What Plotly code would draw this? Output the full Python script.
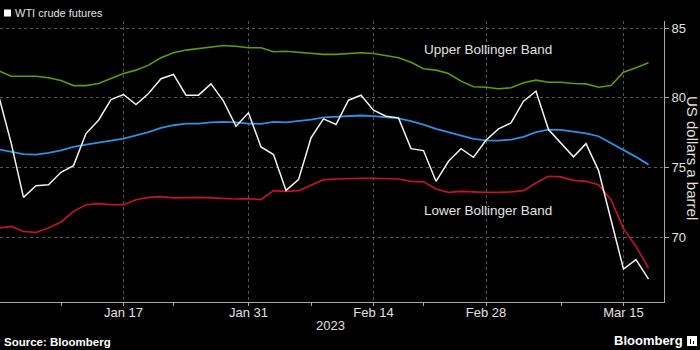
import plotly.graph_objects as go

# Trading days (exchange holidays Jan 2, Jan 16 and Feb 20 have no settlement)
dates = [
    "2022-12-30", "2023-01-03", "2023-01-04", "2023-01-05", "2023-01-06",
    "2023-01-09", "2023-01-10", "2023-01-11", "2023-01-12", "2023-01-13",
    "2023-01-17", "2023-01-18", "2023-01-19", "2023-01-20",
    "2023-01-23", "2023-01-24", "2023-01-25", "2023-01-26", "2023-01-27",
    "2023-01-30", "2023-01-31", "2023-02-01", "2023-02-02", "2023-02-03",
    "2023-02-06", "2023-02-07", "2023-02-08", "2023-02-09", "2023-02-10",
    "2023-02-13", "2023-02-14", "2023-02-15", "2023-02-16", "2023-02-17",
    "2023-02-21", "2023-02-22", "2023-02-23", "2023-02-24",
    "2023-02-27", "2023-02-28", "2023-03-01", "2023-03-02", "2023-03-03",
    "2023-03-06", "2023-03-07", "2023-03-08", "2023-03-09", "2023-03-10",
    "2023-03-13", "2023-03-14", "2023-03-15", "2023-03-16", "2023-03-17",
]

wti = [
    80.20, 76.80, 72.85, 73.69, 73.76,
    74.65, 75.13, 77.43, 78.39, 79.88,
    80.24, 79.52, 80.31, 81.37,
    81.68, 80.19, 80.19, 81.00, 79.76,
    77.96, 78.92, 76.47, 75.92, 73.35,
    74.12, 77.12, 78.49, 78.08, 79.83,
    80.19, 79.11, 78.68, 78.56, 76.35,
    76.21, 74.00, 75.44, 76.35,
    75.73, 76.95, 77.77, 78.20, 79.76,
    80.47, 77.72, 76.71, 75.76, 76.71,
    74.79, 71.24, 67.70, 68.37, 66.98,
]

band_mid = [
    76.30, 76.10, 75.95, 75.92, 76.04,
    76.23, 76.47, 76.64, 76.76, 76.93,
    77.07, 77.29, 77.53, 77.84,
    78.03, 78.15, 78.15, 78.24, 78.27,
    78.24, 78.15, 78.13, 78.27, 78.24,
    78.32, 78.44, 78.60, 78.65, 78.70,
    78.73, 78.68, 78.60, 78.53, 78.32,
    78.08, 77.77, 77.53, 77.29,
    77.05, 76.95, 76.93, 77.00, 77.19,
    77.53, 77.72, 77.70, 77.55, 77.45,
    77.24, 76.76, 76.28, 75.76, 75.20,
]

band_upper = [
    81.95, 81.55, 81.55, 81.55, 81.44,
    81.24, 80.88, 80.88, 81.03, 81.37,
    81.75, 81.99, 82.35, 82.88,
    83.24, 83.43, 83.53, 83.67, 83.76,
    83.71, 83.60, 83.60, 83.31, 83.35,
    83.28, 83.19, 83.12, 83.12, 83.19,
    83.24, 83.19, 83.06, 82.88, 82.56,
    82.09, 81.99, 81.75, 81.20,
    80.80, 80.76, 80.65, 80.72, 81.08,
    81.27, 81.12, 81.12, 81.03, 81.00,
    80.76, 80.88, 81.84, 82.16, 82.52,
]

band_lower = [
    70.64, 70.76, 70.40, 70.33, 70.65,
    71.08, 71.84, 72.32, 72.40, 72.32,
    72.32, 72.68, 72.85, 72.90,
    72.81, 72.83, 72.85, 72.81, 72.78,
    72.73, 72.76, 72.68, 73.33, 73.28,
    73.33, 73.71, 74.12, 74.17, 74.22,
    74.22, 74.22, 74.20, 74.17, 74.00,
    73.96, 73.45, 73.21, 73.28,
    73.22, 73.21, 73.21, 73.24, 73.33,
    73.88, 74.36, 74.32, 74.07, 74.00,
    73.76, 72.68, 70.60, 69.32, 67.77,
]

x_tick_dates = ["2023-01-17", "2023-01-31", "2023-02-14", "2023-02-28", "2023-03-15"]
x_tick_labels = ["Jan 17", "Jan 31", "Feb 14", "Feb 28", "Mar 15"]
x_minor_dates = ["2023-01-09", "2023-01-23", "2023-02-07", "2023-02-21", "2023-03-08"]
y_ticks = [70, 75, 80, 85]

FONT = "Liberation Sans, Arial, sans-serif"
AXIS_GREY = "#a8a8a8"
GRID_GREY = "#555555"
TEXT = "#e0e0e0"

fig = go.Figure()
fig.add_trace(go.Scatter(x=dates, y=band_upper, mode="lines", name="Upper Bollinger Band",
                         line=dict(color="#5c9c06", width=1.6)))
fig.add_trace(go.Scatter(x=dates, y=band_mid, mode="lines", name="20-day average",
                         line=dict(color="#2e8fe6", width=1.8)))
fig.add_trace(go.Scatter(x=dates, y=band_lower, mode="lines", name="Lower Bollinger Band",
                         line=dict(color="#c8102e", width=1.6)))
fig.add_trace(go.Scatter(x=dates, y=wti, mode="lines", name="WTI crude futures",
                         line=dict(color="#f2f2f2", width=1.5)))

fig.update_layout(
    width=700, height=350,
    margin=dict(l=0, r=36, t=21, b=48),
    paper_bgcolor="#000000", plot_bgcolor="#000000",
    showlegend=False,
    font=dict(family=FONT, color=TEXT, size=13),
    xaxis=dict(
        type="date",
        range=["2022-12-30 02:53", "2023-03-20 05:45"],
        rangebreaks=[dict(bounds=["sat", "mon"]),
                     dict(values=["2023-01-02", "2023-01-16", "2023-02-20"])],
        tickmode="array", tickvals=x_tick_dates, ticktext=x_tick_labels,
        ticks="outside", ticklen=3, tickcolor=AXIS_GREY,
        ticklabelstandoff=-5,
        tickfont=dict(size=13, color=TEXT, family=FONT),
        showgrid=True, gridcolor=GRID_GREY, griddash="dot", gridwidth=1,
        showline=True, linecolor=AXIS_GREY, linewidth=1,
        zeroline=False,
        minor=dict(tickmode="array", tickvals=x_minor_dates, ticks="outside",
                   ticklen=3, tickcolor=AXIS_GREY, showgrid=False),
    ),
    yaxis=dict(
        side="right",
        range=[65.33, 85.52],
        tickmode="array", tickvals=y_ticks,
        ticks="outside", ticklen=4, tickcolor=AXIS_GREY,
        tickfont=dict(size=13, color=TEXT, family=FONT),
        showgrid=True, gridcolor=GRID_GREY, griddash="dot", gridwidth=1,
        showline=True, linecolor=AXIS_GREY, linewidth=1,
        zeroline=False,
    ),
)

# Key for the price series
fig.add_shape(type="rect", xref="paper", yref="paper",
              x0=4 / 664, x1=11 / 664, y0=(302 - 16.5) / 281, y1=(302 - 9.5) / 281,
              fillcolor="#ffffff", line=dict(width=0))
fig.add_annotation(xref="paper", yref="paper", x=13 / 664, y=(302 - 13) / 281,
                   text="WTI crude futures", showarrow=False, xanchor="left", yanchor="middle",
                   font=dict(size=11, color=TEXT, family=FONT))

# Band labels
fig.add_annotation(xref="x", yref="y", x="2023-02-21", y=83.44,
                   text="Upper Bollinger Band", showarrow=False, xanchor="left", yanchor="middle",
                   xshift=-2, font=dict(size=13.5, color=TEXT, family=FONT))
fig.add_annotation(xref="x", yref="y", x="2023-02-21", y=71.9,
                   text="Lower Bollinger Band", showarrow=False, xanchor="left", yanchor="middle",
                   xshift=-2, font=dict(size=13.5, color=TEXT, family=FONT))

# Axis title reading top-to-bottom on the right
fig.add_annotation(xref="paper", yref="paper", x=1, xshift=29, y=(302 - 158) / 281,
                   text="US dollars a barrel", showarrow=False, textangle=90,
                   xanchor="center", yanchor="middle",
                   font=dict(size=15, color=TEXT, family=FONT))

# Year under the date ticks
fig.add_annotation(xref="paper", yref="paper", x=330 / 664, y=(302 - 325) / 281,
                   text="2023", showarrow=False, xanchor="center", yanchor="middle",
                   font=dict(size=13, color=TEXT, family=FONT))

# Footer
fig.add_annotation(xref="paper", yref="paper", x=2 / 664, y=(302 - 341.5) / 281,
                   text="<b>Source: Bloomberg</b>", showarrow=False, xanchor="left", yanchor="middle",
                   font=dict(size=11.5, color="#ffffff", family=FONT))
fig.add_annotation(xref="paper", yref="paper", x=685 / 664, y=(302 - 341) / 281,
                   text="<b>Bloomberg</b>", showarrow=False, xanchor="right", yanchor="middle",
                   font=dict(size=13, color="#ffffff", family=FONT))
fig.add_shape(type="rect", xref="paper", yref="paper",
              x0=687 / 664, x1=697 / 664, y0=(302 - 346) / 281, y1=(302 - 336) / 281,
              fillcolor="#ffffff", line=dict(width=0))
fig.add_shape(type="rect", xref="paper", yref="paper",
              x0=690 / 664, x1=691 / 664, y0=(302 - 344) / 281, y1=(302 - 339) / 281,
              fillcolor="#000000", line=dict(width=0))
fig.add_shape(type="rect", xref="paper", yref="paper",
              x0=693 / 664, x1=694 / 664, y0=(302 - 344) / 281, y1=(302 - 341) / 281,
              fillcolor="#000000", line=dict(width=0))

fig.write_html("out.html")
